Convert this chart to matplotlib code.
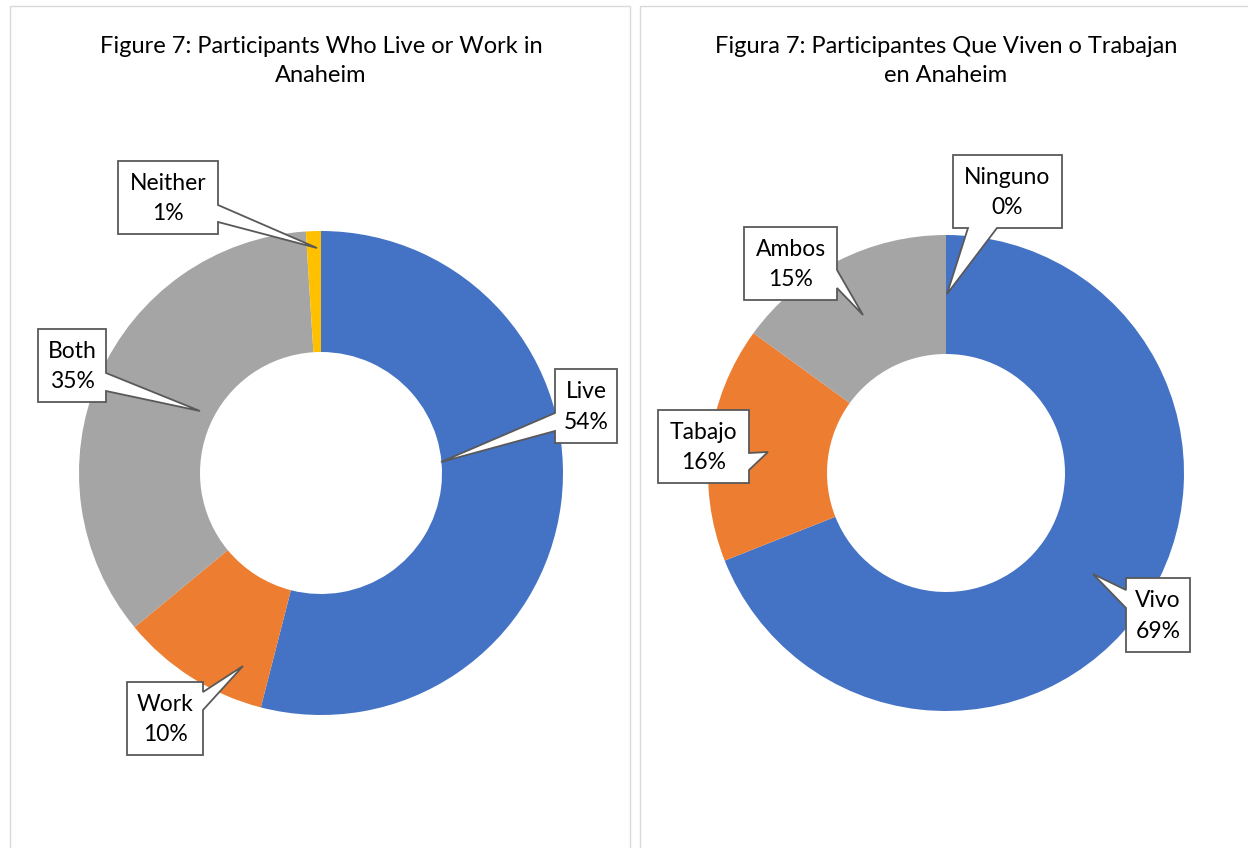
import matplotlib
matplotlib.use("Agg")
import matplotlib.pyplot as plt
from matplotlib.patches import Polygon, Rectangle

# ---------------- data ----------------
en_title = "Figure 7: Participants Who Live or Work in\nAnaheim"
en_labels = ["Live", "Work", "Both", "Neither"]
en_values = [54, 10, 35, 1]

es_title = "Figura 7: Participantes Que Viven o Trabajan\nen Anaheim"
es_labels = ["Vivo", "Tabajo", "Ambos", "Ninguno"]
es_values = [69, 16, 15, 0]

colors = ["#4472C4", "#ED7D31", "#A5A5A5", "#FFC000"]

# ---------------- layout (pixel coords, y down) ----------------
W, H = 1248, 848
FONT = ["Lato", "DejaVu Sans"]

# callout: box (x0, x1, y0, y1), side, base (a, b), tip (x, y)
en_callouts = [
    ((555, 617, 369, 443), "left", (413, 431), (441, 462)),
    ((127, 203, 682, 755), "right", (692, 710), (243, 666)),
    ((38, 106, 329, 402), "right", (373, 391), (200, 411)),
    ((118, 218, 161, 234), "right", (205, 222), (317, 248)),
]
es_callouts = [
    ((1126, 1190, 578, 652), "left", (590, 608), (1093, 574)),
    ((658, 749, 410, 483), "right", (453, 470), (768, 452)),
    ((744, 837, 227, 300), "right", (270, 288), (863, 315)),
    ((953, 1062, 155, 228), "bottom", (968, 997), (947, 294)),
]

fig = plt.figure(figsize=(W / 100, H / 100), dpi=100)
fig.patch.set_facecolor("white")

HALF = 260


def pie_axes(cx, cy):
    ax = fig.add_axes([(cx - HALF) / W, (H - cy - HALF) / H, 2 * HALF / W, 2 * HALF / H])
    ax.axis("off")
    return ax


def draw_pie(ax, values, r):
    ax.pie(values, colors=colors, startangle=90, counterclock=False,
           radius=1.0, wedgeprops=dict(width=0.5, linewidth=0))
    lim = HALF / r
    ax.set_xlim(-lim, lim)
    ax.set_ylim(-lim, lim)
    ax.set_aspect("auto")


axL = pie_axes(321, 473)
draw_pie(axL, en_values, 242)

axR = pie_axes(946, 473)
draw_pie(axR, es_values, 238)

ov = fig.add_axes([0, 0, 1, 1], zorder=10)
ov.set_xlim(0, W)
ov.set_ylim(H, 0)
ov.axis("off")
ov.patch.set_alpha(0)

# panel borders
for x0, x1 in [(10, 630), (640, 1260)]:
    ov.add_patch(Rectangle((x0, 6), x1 - x0, 900, fill=False,
                           edgecolor="#D9D9D9", linewidth=1.0, clip_on=False))

# titles
for cx, title in [(321, en_title), (946, es_title)]:
    ov.text(cx, 61, title, ha="center", va="center", fontsize=17,
            family=FONT, color="black", linespacing=1.42)


def callout(box, side, base, tip, text):
    x0, x1, y0, y1 = box
    a, b = base
    pts = [(x0, y0)]
    if side == "top":
        pts += [(a, y0), tip, (b, y0)]
    pts += [(x1, y0)]
    if side == "right":
        pts += [(x1, a), tip, (x1, b)]
    pts += [(x1, y1)]
    if side == "bottom":
        pts += [(b, y1), tip, (a, y1)]
    pts += [(x0, y1)]
    if side == "left":
        pts += [(x0, b), tip, (x0, a)]
    ov.add_patch(Polygon(pts, closed=True, facecolor="white",
                         edgecolor="#595959", linewidth=1.3, joinstyle="miter"))
    ov.text((x0 + x1) / 2, (y0 + y1) / 2 + 1, text, ha="center", va="center",
            fontsize=16.5, family=FONT, color="black", linespacing=1.55)


for (box, side, base, tip), lab, val in zip(en_callouts, en_labels, en_values):
    callout(box, side, base, tip, f"{lab}\n{val}%")
for (box, side, base, tip), lab, val in zip(es_callouts, es_labels, es_values):
    callout(box, side, base, tip, f"{lab}\n{val}%")

fig.savefig("out.png", dpi=100, facecolor="white")
